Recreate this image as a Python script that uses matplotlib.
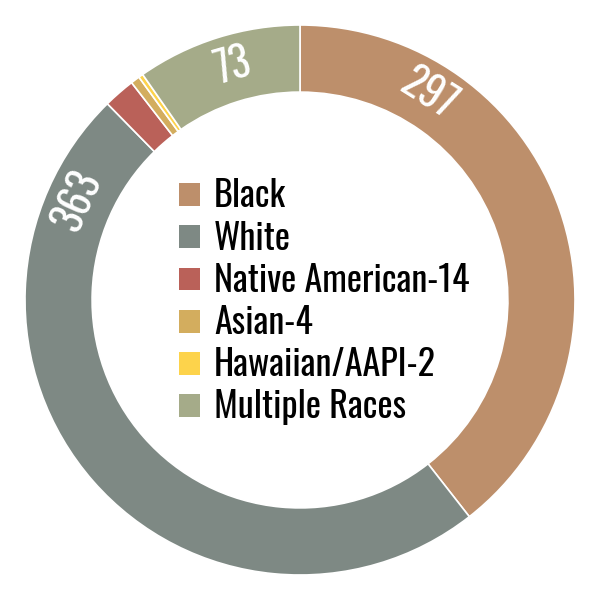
import numpy as np
import matplotlib
matplotlib.use('Agg')
import matplotlib.pyplot as plt

categories = ['Black', 'White', 'Native American', 'Asian', 'Hawaiian/AAPI', 'Multiple Races']
values = [297, 363, 14, 4, 2, 73]
legend_labels = ['Black', 'White', 'Native American-14', 'Asian-4', 'Hawaiian/AAPI-2', 'Multiple Races']
colors = ['#BD8F6B', '#7E8984', '#BA6159', '#D3AD5E', '#FDD34B', '#A5AB89']
# angles (deg) where the value labels sit, only for the three big slices
label_angles = {'Black': 58, 'White': 156, 'Multiple Races': 106}

fam = ['Oswald', 'Roboto Condensed', 'DejaVu Sans']

fig = plt.figure(figsize=(6, 6), dpi=100)
ax = fig.add_axes([0, 0, 1, 1])

wedges, _ = ax.pie(values, colors=colors, startangle=90, counterclock=False,
                   radius=1.0,
                   wedgeprops=dict(width=0.244, edgecolor='white', linewidth=1.2))

for cat, val in zip(categories, values):
    if cat in label_angles:
        a = label_angles[cat]
        r = 0.885
        ax.text(r * np.cos(np.radians(a)), r * np.sin(np.radians(a)), str(val),
                rotation=a - 90, rotation_mode='anchor', ha='center', va='center',
                color='white', fontsize=30, family=fam, weight=300)

leg = ax.legend(wedges, legend_labels, loc='center left', bbox_to_anchor=(0.298, 0.497),
                frameon=False, prop=dict(family=fam, size=26),
                handlelength=0.6, handleheight=0.6, handletextpad=0.38,
                labelspacing=0.17, borderpad=0, borderaxespad=0)
for h in leg.legend_handles:
    h.set_edgecolor('none')

lim = 300 / 275
ax.set_xlim(-lim, lim)
ax.set_ylim(-lim, lim)
ax.set_aspect('equal')
ax.axis('off')

fig.savefig('out.png', dpi=100)
